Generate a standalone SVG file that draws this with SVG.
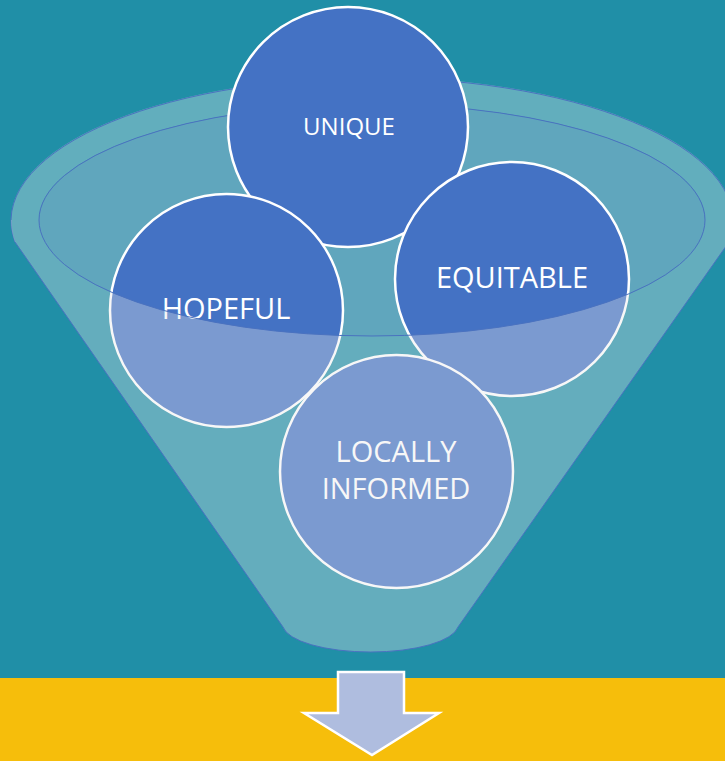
<svg xmlns="http://www.w3.org/2000/svg" width="725" height="761" viewBox="0 0 725 761">
  <style>
    .circ { fill: #4472C4; stroke: #FFFFFF; stroke-width: 2.5; }
    .lbl { fill: #FFFFFF; font-family: "Open Sans", "Liberation Sans", sans-serif; text-anchor: middle; }
    .edge { fill: none; stroke: #4A72C0; stroke-width: 1; }
  </style>
  <rect id="background" x="0" y="0" width="725" height="761" fill="#208FA7"/>
  <rect id="band" x="0" y="678" width="725" height="83" fill="#F6BE0B"/>

  <g id="funnel-back">
    <path d="M 11,220 A 361 143 0 0 1 733,220 L 705,220 A 333 116 0 0 0 39,220 Z" fill="#62AEBD"/>
    <ellipse cx="372" cy="220" rx="333" ry="116" fill="#60A6BD"/>
    <path class="edge" d="M 15,242 A 361 143 0 1 1 729,242"/>
    <path class="edge" d="M 39,220 A 333 116 0 0 1 705,220"/>
  </g>

  <g id="node-unique">
    <circle class="circ" cx="348" cy="127" r="120"/>
    <text class="lbl" x="349" y="135" font-size="24">UNIQUE</text>
  </g>
  <g id="node-hopeful">
    <circle class="circ" cx="226.5" cy="310.5" r="116.5"/>
    <text class="lbl" x="226" y="319" font-size="29">HOPEFUL</text>
  </g>
  <g id="node-equitable">
    <circle class="circ" cx="512" cy="279" r="117"/>
    <text class="lbl" x="512" y="288" font-size="29">EQUITABLE</text>
  </g>
  <g id="node-locally-informed">
    <circle class="circ" cx="396.5" cy="471.5" r="116.5"/>
    <text class="lbl" x="396" y="462" font-size="29">LOCALLY</text>
    <text class="lbl" x="396" y="499" font-size="29">INFORMED</text>
  </g>

  <g id="funnel-front">
    <path d="M 11,220 A 361 143 0 0 0 15,242 L 283,627 A 88 28 0 0 0 458,627 L 729,242 A 361 143 0 0 0 733,220 L 705,220 A 333 116 0 0 1 39,220 Z" fill="#E8E8E8" fill-opacity="0.34"/>
    <path class="edge" d="M 15,242 L 283,627 A 88 28 0 0 0 458,627 L 729,242"/>
    <path class="edge" d="M 705,220 A 333 116 0 0 1 39,220"/>
  </g>

  <g id="arrow">
    <path d="M 338,672 L 404,672 L 404,713 L 439,713 L 372,755 L 304,713 L 338,713 Z" fill="#AFBDDF" stroke="#FFFFFF" stroke-width="2.5" stroke-linejoin="miter"/>
  </g>
</svg>
